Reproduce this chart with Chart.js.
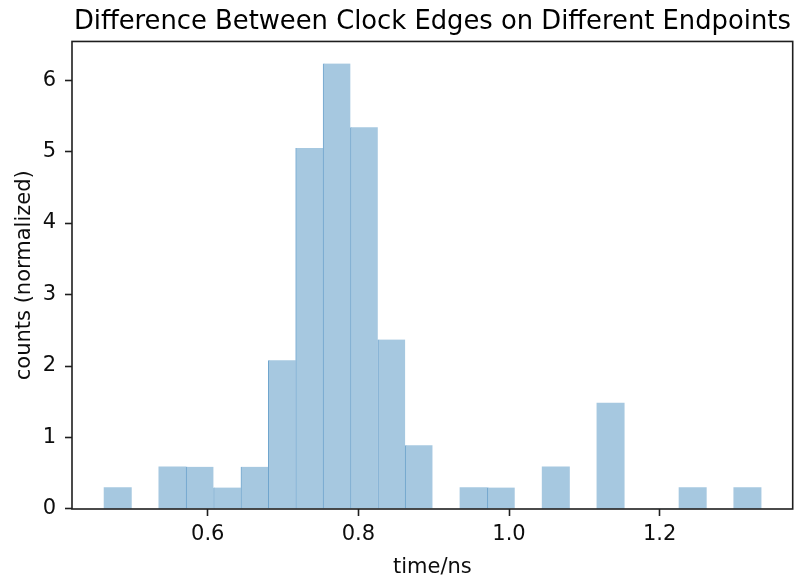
<!DOCTYPE html>
<html><head><meta charset="utf-8">
<script src="https://cdn.jsdelivr.net/npm/chart.js@4.4.0/dist/chart.umd.min.js"></script>
<style>html,body{margin:0;padding:0;background:#fff}#wrap{width:794px;height:580px}</style>
</head><body><div id="wrap"><canvas id="c" width="794" height="580"></canvas></div>
<script>
// Histogram bins (centres, time/ns) and normalized counts
const binCenters = [0.4805, 0.5168, 0.5532, 0.5895, 0.6259, 0.6622, 0.6986, 0.7349,
                    0.7713, 0.8076, 0.8440, 0.8803, 0.9167, 0.9530, 0.9894, 1.0257,
                    1.0621, 1.0984, 1.1348, 1.1711, 1.2075, 1.2438, 1.2802, 1.3165];
const densities  = [0.30, 0.00, 0.59, 0.59, 0.30, 0.59, 2.08, 5.05,
                    6.23, 5.34, 2.37, 0.89, 0.00, 0.30, 0.30, 0.00,
                    0.59, 0.00, 1.48, 0.00, 0.00, 0.30, 0.00, 0.30];
const xTickValues = [0.6, 0.8, 1.0, 1.2];
const yTickValues = [0, 1, 2, 3, 4, 5, 6];
const titleText = 'Difference Between Clock Edges on Different Endpoints';
const xLabel = 'time/ns';
const yLabel = 'counts (normalized)';

const FONT = "'DejaVu Sans', sans-serif";
const INK = '#0d0d0d';

const frame = {
  id: 'frame',
  afterDatasetsDraw(chart) {
    const {ctx, chartArea: {left, top, right, bottom}} = chart;
    ctx.save();
    ctx.strokeStyle = '#1e1e1e';
    ctx.lineWidth = 1.6;
    ctx.strokeRect(left, top, right - left, bottom - top);
    ctx.restore();
  }
};

new Chart(document.getElementById('c'), {
  type: 'bar',
  data: {
    datasets: [{
      data: binCenters.map((x, i) => ({x: x, y: densities[i]})),
      backgroundColor: 'rgb(166,200,224)',
      borderColor: 'rgb(112,165,205)',
      borderWidth: (ctx) => {
        const i = ctx.dataIndex;
        const prev = i > 0 ? densities[i - 1] : 0;
        return {left: prev > 0 ? 1 : 0, top: 0, right: 0, bottom: 0};
      },
      borderSkipped: false,
      categoryPercentage: 1.0,
      barPercentage: 1.0
    }]
  },
  options: {
    responsive: false,
    devicePixelRatio: 1,
    animation: false,
    events: [],
    layout: {padding: {left: 0, right: 1.3, top: 0, bottom: 0}},
    plugins: {
      legend: {display: false},
      tooltip: {enabled: false},
      title: {
        display: true,
        text: titleText,
        fullSize: false,
        color: '#000',
        font: {family: FONT, size: 25.8, weight: 'normal', lineHeight: 1.2},
        padding: {top: 7, bottom: 3.5}
      }
    },
    scales: {
      x: {
        type: 'linear',
        offset: false,
        min: 0.4198,
        max: 1.3766,
        afterFit: (s) => { s.height = 71; },
        afterBuildTicks: (s) => { s.ticks = xTickValues.map(v => ({value: v})); },
        border: {display: false},
        grid: {display: true, offset: false, drawOnChartArea: false, drawTicks: true, tickLength: 7, tickColor: '#1e1e1e', tickWidth: 1.6},
        ticks: {
          color: INK,
          padding: 6,
          maxRotation: 0,
          font: {family: FONT, size: 21},
          callback: (v) => Number(v).toFixed(1)
        },
        title: {display: true, text: xLabel, color: INK, font: {family: FONT, size: 21}, padding: {top: 5, bottom: 0}}
      },
      y: {
        type: 'linear',
        min: 0,
        max: 6.54,
        afterFit: (s) => { s.width = 72; },
        afterBuildTicks: (s) => { s.ticks = yTickValues.map(v => ({value: v})); },
        border: {display: false},
        grid: {display: true, drawOnChartArea: false, drawTicks: true, tickLength: 7, tickColor: '#1e1e1e', tickWidth: 1.6},
        ticks: {
          color: INK,
          padding: 9,
          font: {family: FONT, size: 21},
          callback: (v) => String(v)
        },
        title: {display: true, text: yLabel, color: INK, font: {family: FONT, size: 21}, padding: {top: 12, bottom: 0}}
      }
    }
  },
  plugins: [frame]
});
</script>
</body></html>
